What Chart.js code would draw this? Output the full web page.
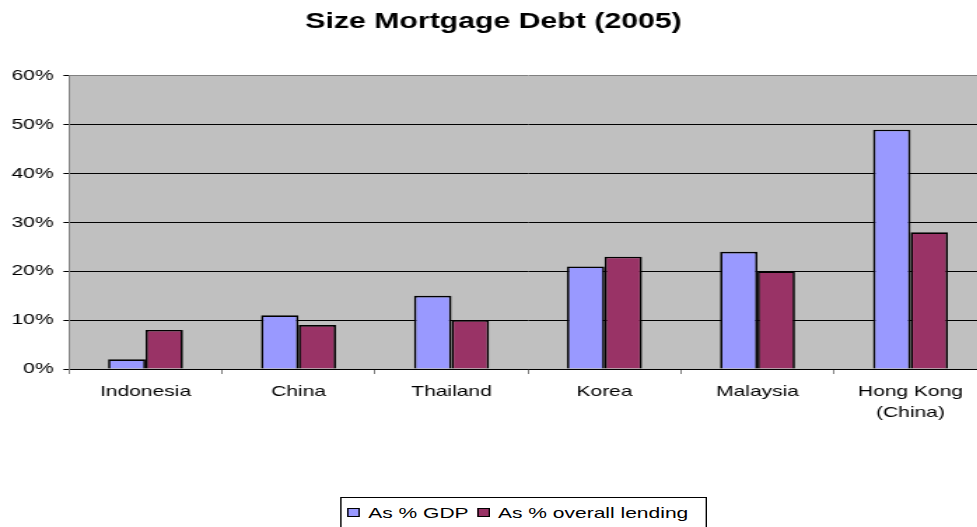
<!DOCTYPE html>
<html>
<head>
<meta charset="utf-8">
<script src="https://cdn.jsdelivr.net/npm/chart.js@4"></script>
<style>
  html, body { margin: 0; padding: 0; background: #fff; overflow: hidden; }
  /* the reference text is stretched horizontally, so the whole chart is too */
  #wrap { position: absolute; left: 0; top: 0; width: 710px; height: 527px; transform: scaleX(1.4); transform-origin: 0 0; }
  #legend { position: absolute; left: 243px; top: 497px; width: 262px; height: 31px; box-sizing: border-box;
    border: 1px solid #000; background: #fff; display: flex; align-items: center; padding-left: 4px;
    font: 15px "Liberation Sans", Arial, sans-serif; color: #000; white-space: nowrap; }
  #legend .sw { display: inline-block; width: 7px; height: 7px; border: 1px solid #000; margin-right: 6px; }
  #legend .it { margin-right: 6px; }
</style>
</head>
<body>
<div id="wrap">
  <canvas id="debtChart" width="710" height="527"></canvas>
  <div id="legend"></div>
</div>
<script>
// Chart data
const categories = ["Indonesia", "China", "Thailand", "Korea", "Malaysia", ["Hong Kong", "(China)"]];
const gdpShare = [2, 11, 15, 21, 24, 49];        // As % GDP
const lendingShare = [8, 9, 10, 23, 20, 28];     // As % overall lending
const seriesNames = ["As % GDP", "As % overall lending"];
const seriesColors = ["#9999FF", "#993366"];
const yTicks = [0, 10, 20, 30, 40, 50, 60];

const fontFamily = '"Liberation Sans", Arial, sans-serif';

// grey plot area behind the bars
const plotBackground = {
  id: "plotBackground",
  beforeDraw(chart) {
    const { ctx, chartArea } = chart;
    ctx.save();
    ctx.fillStyle = "#C0C0C0";
    ctx.fillRect(chartArea.left, chartArea.top, chartArea.right - chartArea.left, chartArea.bottom - chartArea.top);
    ctx.restore();
  },
};

const ctx = document.getElementById("debtChart").getContext("2d");

const debtChart = new Chart(ctx, {
  type: "bar",
  data: {
    labels: categories,
    datasets: [
      {
        label: seriesNames[0],
        data: gdpShare,
        backgroundColor: seriesColors[0],
        borderColor: "#000",
        borderWidth: 1.7,
      },
      {
        label: seriesNames[1],
        data: lendingShare,
        backgroundColor: seriesColors[1],
        borderColor: "#000",
        borderWidth: 1.7,
      },
    ],
  },
  options: {
    responsive: false,
    animation: false,
    categoryPercentage: 0.49,
    barPercentage: 1,
    layout: { padding: { left: 0, right: 5, top: 0, bottom: 98 } },
    plugins: {
      legend: { display: false },
      tooltip: { enabled: false },
      title: {
        display: true,
        text: "Size Mortgage Debt (2005)",
        color: "#000",
        font: { family: fontFamily, size: 21.6, weight: "bold" },
        padding: { top: 9, bottom: 41 },
      },
    },
    scales: {
      x: {
        afterFit(scale) { scale.height = 60; },
        grid: { offset: true, drawOnChartArea: false, tickLength: 5, color: "#808080" },
        border: { color: "#000", width: 1 },
        ticks: { color: "#000", padding: 8, maxRotation: 0, autoSkip: false,
          font: { family: fontFamily, size: 15, lineHeight: 1.35 } },
      },
      y: {
        min: 0,
        max: 60,
        afterFit(scale) { scale.width = 49.3; },
        afterBuildTicks(scale) { scale.ticks = yTicks.map((v) => ({ value: v })); },
        grid: {
          color: (c) => (c.tick && c.tick.value === 60 ? "#808080" : "#000"),
          tickColor: "#000",
          tickLength: 4,
          lineWidth: 1,
        },
        border: { color: "#808080", width: 1 },
        ticks: { color: "#000", padding: 7, callback: (v) => v + "%",
          font: { family: fontFamily, size: 15 } },
      },
    },
  },
  plugins: [plotBackground],
});

// legend in a framed box like the original
const legend = document.getElementById("legend");
seriesNames.forEach((name, i) => {
  const sw = document.createElement("span");
  sw.className = "sw";
  sw.style.background = seriesColors[i];
  const it = document.createElement("span");
  it.className = "it";
  it.textContent = name;
  legend.appendChild(sw);
  legend.appendChild(it);
});
</script>
</body>
</html>
